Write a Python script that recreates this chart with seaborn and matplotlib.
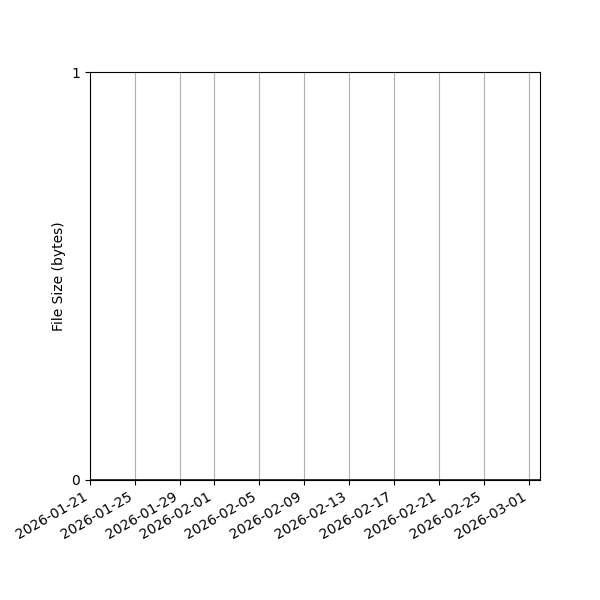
import matplotlib
matplotlib.use("Agg")
import matplotlib.pyplot as plt
import matplotlib.dates as mdates
import seaborn as sns
import pandas as pd

dates = ["2026-01-21", "2026-03-02"]
file_sizes = [0, 0]

df = pd.DataFrame({"date": pd.to_datetime(dates), "size": file_sizes})

fig, ax = plt.subplots(figsize=(6, 6), dpi=100)
fig.subplots_adjust(left=0.15, right=0.9, top=0.88, bottom=0.2)
sns.lineplot(data=df, x="date", y="size", ax=ax, color="blue", linewidth=2, zorder=3)
ax.set_xlim(pd.Timestamp(dates[0]), pd.Timestamp(dates[-1]))
ax.set_ylim(0, 1)
ax.set_yticks([0, 1])
ax.xaxis.set_major_locator(mdates.AutoDateLocator())
ax.xaxis.set_major_formatter(mdates.DateFormatter("%Y-%m-%d"))
ax.grid(axis="x", color="#b0b0b0", linewidth=0.8)
ax.set_xlabel("")
ax.set_ylabel("File Size (bytes)")
for lbl in ax.get_xticklabels():
    lbl.set_rotation(30)
    lbl.set_horizontalalignment("right")
fig.savefig("out.png", dpi=100)
